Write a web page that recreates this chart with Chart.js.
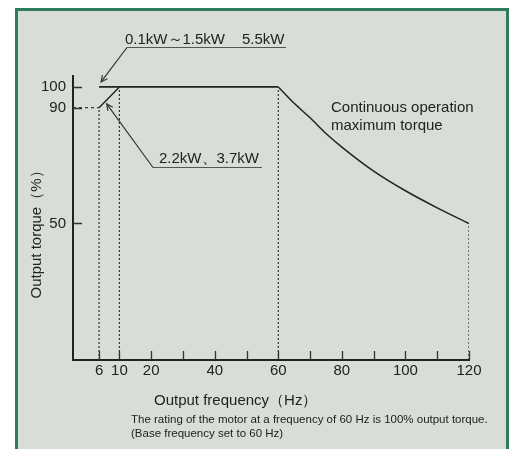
<!DOCTYPE html>
<html>
<head>
<meta charset="utf-8">
<script src="https://cdn.jsdelivr.net/npm/chart.js@4.4.0/dist/chart.umd.min.js"></script>
<style>
    html, body { margin: 0; padding: 0; background: #fff; }
    #frame {
        position: absolute; left: 15px; top: 8px;
        width: 488px; height: 460px;
        border: 3px solid #2f7b5d; border-bottom: none;
        background: #d9ddd7;
    }
    #wrap { position: absolute; left: 0; top: 0; width: 512px; height: 449px; }
</style>
</head>
<body>
<div id="frame"></div>
<div id="wrap"><canvas id="chart" width="512" height="449"></canvas></div>
<script>
// Chart data (against its own tick labels)
const xTickValues = [6, 10, 20, 30, 40, 50, 60, 70, 80, 90, 100, 110, 120];
const xTickLabels = ['6', '10', '20', '', '40', '', '60', '', '80', '', '100', '', '120'];
const yTickValues = [50, 90, 100];

// 0.1kW~1.5kW, 5.5kW: full torque from 6 Hz
const flatFreq = [6, 60];
const flatTorque = [100, 100];
// 2.2kW, 3.7kW: 90% at 6 Hz rising to 100% at 10 Hz
const rampFreq = [6, 10];
const rampTorque = [90, 100];
// continuous operation maximum torque above base frequency
const declineFreq = [60, 65, 70, 75, 80, 90, 100, 110, 120];
const declineTorque = [100, 92.1, 86.5, 81.1, 76.4, 68.1, 61.3, 55.4, 50];
// dotted drop lines
const guideFreq = [6, 10, 60, 120];
const guideTorque = [90, 100, 100, 50];

const xMin = -4.6, xMax = 120;
const yMin = 0, yMax = 104;

// The drawing is schematic: 6 Hz and 90% sit off the linear spacing.
const axisKnots = {
    x: [[0, 0], [6, 3.6], [10, 10]],
    y: [[50, 50], [90, 92.4], [100, 100]]
};

function warpBy(knots, v, from, to) {
    if (!knots || v === null || isNaN(v)) return v;
    if (v <= knots[0][from]) return v - knots[0][from] + knots[0][to];
    for (let i = 1; i < knots.length; i++) {
        if (v <= knots[i][from]) {
            const t = (v - knots[i - 1][from]) / (knots[i][from] - knots[i - 1][from]);
            return knots[i - 1][to] + t * (knots[i][to] - knots[i - 1][to]);
        }
    }
    const last = knots[knots.length - 1];
    return v - last[from] + last[to];
}

class SchematicScale extends Chart.LinearScale {
    getPixelForValue(v) { return super.getPixelForValue(warpBy(axisKnots[this.id], v, 0, 1)); }
    getValueForPixel(p) { return warpBy(axisKnots[this.id], super.getValueForPixel(p), 1, 0); }
}
SchematicScale.id = 'schematic';
SchematicScale.defaults = Chart.LinearScale.defaults;
Chart.register(SchematicScale);

const FONT = "'Liberation Sans', Arial, Helvetica, sans-serif";
const INK = '#222';
Chart.defaults.font.family = FONT;
Chart.defaults.color = INK;

const toPoints = (xs, ys) => xs.map((x, i) => ({ x: x, y: ys[i] }));

function guidePoints() {
    const pts = [];
    guideFreq.forEach((f, i) => {
        pts.push({ x: f, y: yMin }, { x: f, y: guideTorque[i] }, { x: f, y: null });
    });
    return pts;
}

function leader(ctx, x1, y1, x2, y2) {
    ctx.beginPath();
    ctx.moveTo(x1, y1);
    ctx.lineTo(x2, y2);
    ctx.stroke();
    const a = Math.atan2(y2 - y1, x2 - x1);
    const len = 7, spread = 0.45;
    ctx.beginPath();
    ctx.moveTo(x2 - len * Math.cos(a - spread), y2 - len * Math.sin(a - spread));
    ctx.lineTo(x2, y2);
    ctx.lineTo(x2 - len * Math.cos(a + spread), y2 - len * Math.sin(a + spread));
    ctx.stroke();
}

// inward tick marks, labels, leaders and notes
const annotate = {
    id: 'annotate',
    afterDraw(chart) {
        const { ctx, chartArea: area } = chart;
        const x = chart.scales.x, y = chart.scales.y;
        ctx.save();
        ctx.strokeStyle = '#333';
        ctx.lineWidth = 1.3;
        ctx.beginPath();
        y.ticks.forEach((t, i) => {
            const py = Math.round(y.getPixelForTick(i)) + 0.5;
            ctx.moveTo(area.left, py);
            ctx.lineTo(area.left + 9, py);
        });
        x.ticks.forEach((t, i) => {
            const px = Math.round(x.getPixelForTick(i)) + 0.5;
            ctx.moveTo(px, area.bottom);
            ctx.lineTo(px, area.bottom - 9);
        });
        ctx.stroke();

        ctx.fillStyle = INK;
        ctx.textBaseline = 'alphabetic';
        ctx.textAlign = 'left';
        ctx.font = '15px ' + FONT;

        // 0.1kW~1.5kW 5.5kW
        ctx.fillText('0.1kW～1.5kW', 125, 44);
        ctx.fillText('5.5kW', 242, 44);
        ctx.strokeStyle = '#555';
        ctx.lineWidth = 1.2;
        ctx.beginPath();
        ctx.moveTo(127, 47.5);
        ctx.lineTo(286, 47.5);
        ctx.stroke();
        ctx.strokeStyle = '#333';
        leader(ctx, 127, 47.5, x.getPixelForValue(flatFreq[0]) + 2, y.getPixelForValue(flatTorque[0]) - 5);

        // 2.2kW, 3.7kW
        ctx.fillText('2.2kW、3.7kW', 159, 163);
        ctx.strokeStyle = '#555';
        ctx.beginPath();
        ctx.moveTo(153, 167.5);
        ctx.lineTo(262, 167.5);
        ctx.stroke();
        ctx.strokeStyle = '#333';
        const midF = (rampFreq[0] * 0.625 + rampFreq[1] * 0.375);
        const midT = (rampTorque[0] * 0.625 + rampTorque[1] * 0.375);
        leader(ctx, 153, 167.5, x.getPixelForValue(midF), y.getPixelForValue(midT) + 4);

        // curve caption
        ctx.fillText('Continuous operation', 331, 112);
        ctx.fillText('maximum torque', 331, 130);

        // axis titles
        ctx.fillText('Output frequency（Hz）', 154, 405);
        ctx.save();
        ctx.translate(37, 231);
        ctx.rotate(-Math.PI / 2);
        ctx.textAlign = 'center';
        ctx.textBaseline = 'middle';
        ctx.fillText('Output torque（%）', 0, 0);
        ctx.restore();

        // notes
        ctx.font = '11.5px ' + FONT;
        ctx.fillText('The rating of the motor at a frequency of 60 Hz is 100% output torque.', 131, 423);
        ctx.fillText('(Base frequency set to 60 Hz)', 131, 437);
        ctx.restore();
    }
};

const lineStyle = { borderColor: INK, borderWidth: 1.8, pointRadius: 0, fill: false };
const dotStyle = { borderColor: '#333', borderWidth: 1.2, borderDash: [2, 2], pointRadius: 0, fill: false, spanGaps: false };

new Chart(document.getElementById('chart'), {
    type: 'line',
    data: {
        datasets: [
            Object.assign({ label: 'guides', data: guidePoints() }, dotStyle),
            Object.assign({ label: 'guide90', data: [{ x: xMin, y: rampTorque[0] }, { x: rampFreq[0], y: rampTorque[0] }] }, dotStyle, { borderDash: [3, 3] }),
            Object.assign({ label: '0.1kW～1.5kW 5.5kW', data: toPoints(flatFreq, flatTorque) }, lineStyle),
            Object.assign({ label: '2.2kW、3.7kW', data: toPoints(rampFreq, rampTorque) }, lineStyle, { borderWidth: 1.4 }),
            Object.assign({ label: 'Continuous operation maximum torque', data: toPoints(declineFreq, declineTorque), cubicInterpolationMode: 'monotone' }, lineStyle, { borderWidth: 1.5 })
        ]
    },
    options: {
        responsive: false,
        animation: false,
        events: [],
        layout: { padding: { left: 0, right: 43, top: 76, bottom: 59 } },
        plugins: { legend: { display: false }, tooltip: { enabled: false } },
        scales: {
            x: {
                type: 'schematic',
                min: xMin,
                max: xMax,
                afterBuildTicks: (s) => { s.ticks = xTickValues.map(v => ({ value: v })); },
                afterFit: (s) => { s.height = 30; },
                grid: { display: true, drawOnChartArea: false, drawTicks: false },
                border: { display: true, color: INK, width: 2 },
                ticks: {
                    autoSkip: false, maxRotation: 0, padding: 2,
                    font: { size: 15 }, color: INK,
                    callback: (v, i) => xTickLabels[i]
                }
            },
            y: {
                type: 'schematic',
                min: yMin,
                max: yMax,
                afterBuildTicks: (s) => { s.ticks = yTickValues.map(v => ({ value: v })); },
                afterFit: (s) => { s.width = 73; },
                grid: { display: true, drawOnChartArea: false, drawTicks: false },
                border: { display: true, color: INK, width: 2 },
                ticks: {
                    autoSkip: false, padding: 7,
                    font: { size: 15 }, color: INK,
                    callback: (v) => String(v)
                }
            }
        }
    },
    plugins: [annotate]
});
</script>
</body>
</html>
